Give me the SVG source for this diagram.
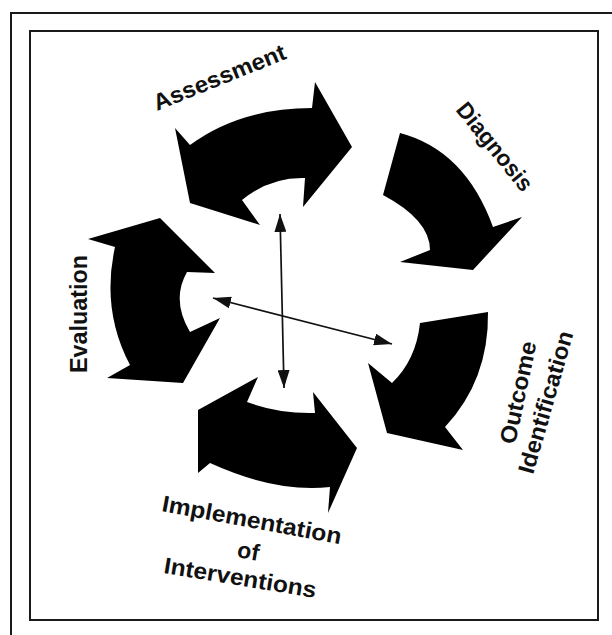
<svg xmlns="http://www.w3.org/2000/svg" width="612" height="635" viewBox="0 0 612 635">
<style>
.frame{fill:none;stroke:#1a1a1a;stroke-width:2}
.blk{fill:#000;stroke:none}
.lbl{font-family:"Liberation Sans",Arial,sans-serif;font-weight:bold;font-size:23px;fill:#111}
.conn{stroke:#111;stroke-width:1.7;fill:none;marker-start:url(#ah);marker-end:url(#ah)}
</style>
<defs>
<marker id="ah" markerUnits="userSpaceOnUse" markerWidth="20" markerHeight="12" refX="18" refY="6" orient="auto-start-reverse" viewBox="0 0 20 12">
<path d="M0,0 L18,6 L0,12 z" fill="#111"/>
</marker>
</defs>
<rect width="612" height="635" fill="#fff"/>
<path class="frame" d="M11,635 L11,13 L612,13"/>
<rect class="frame" x="30" y="31" width="568" height="589"/>

<g id="assessment">
<path class="blk" d="M175,128 L190,145 Q240,108 312,108 L315,82 L352,147 L303,207 L305,178 Q270,177 242,200 L260,225 L190,203 Z"/>
<text class="lbl" transform="translate(157,111) rotate(-22)" textLength="141" lengthAdjust="spacingAndGlyphs">Assessment</text>
</g>

<g id="diagnosis">
<path class="blk" d="M400,133 Q465,150 493,227 L522,217 L473,270 L400,262 L430,250 Q430,220 383,195 Z"/>
<text class="lbl" transform="translate(455,110) rotate(51)" textLength="107" lengthAdjust="spacingAndGlyphs">Diagnosis</text>
</g>

<g id="outcome">
<path class="blk" d="M420,323 L488,312 Q489,380 445,427 L463,450 L387,433 L368,363 L392,383 Q416,360 420,323 Z"/>
<text class="lbl" transform="translate(515,445) rotate(-78)" textLength="104" lengthAdjust="spacingAndGlyphs">Outcome</text>
<text class="lbl" transform="translate(533,475) rotate(-74)" textLength="147" lengthAdjust="spacingAndGlyphs">Identification</text>
</g>

<g id="implementation">
<path class="blk" d="M198,410 L258,377 L247,402 Q279,414 315,413 L313,392 L357,448 L328,513 L330,487 Q276,493 210,463 L198,473 Z"/>
<text class="lbl" transform="translate(161,511) rotate(10.5)" textLength="182" lengthAdjust="spacingAndGlyphs">Implementation</text>
<text class="lbl" text-anchor="middle" transform="translate(247,559) rotate(10)">of</text>
<text class="lbl" transform="translate(163,573) rotate(9.3)" textLength="154" lengthAdjust="spacingAndGlyphs">Interventions</text>
</g>

<g id="evaluation">
<path class="blk" d="M88,239 L160,218 L215,273 L187,272 Q171,300 190,332 L220,318 L183,383 L107,378 L130,365 Q101,310 115,247 Z"/>
<text class="lbl" transform="translate(87,373) rotate(-90)" textLength="118" lengthAdjust="spacingAndGlyphs">Evaluation</text>
</g>

<g id="connectors">
<line class="conn" x1="280" y1="214" x2="284" y2="388"/>
<line class="conn" x1="213" y1="298" x2="392" y2="344"/>
</g>
</svg>
